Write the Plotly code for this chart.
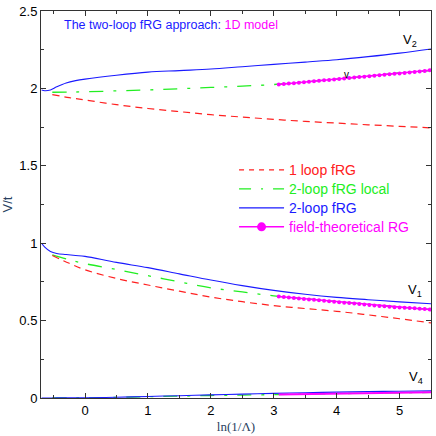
import plotly.graph_objects as go

# ---------------- data ----------------
x_blue = [-0.69, -0.64, -0.55, -0.45, -0.3, -0.15, 0, 0.5, 1, 1.5, 2, 2.5, 3, 3.5, 4, 4.5, 5, 5.5]
v2_blue = [1.99, 1.985, 1.99, 2.01, 2.035, 2.05, 2.06, 2.085, 2.105, 2.115, 2.125, 2.14, 2.155, 2.17, 2.185, 2.205, 2.228, 2.255]
v1_blue = [1.0, 0.975, 0.947, 0.934, 0.927, 0.921, 0.915, 0.876, 0.842, 0.802, 0.762, 0.726, 0.695, 0.67, 0.65, 0.635, 0.621, 0.609]
v4_blue = [0.0, 0.0, 0.0, 0.001, 0.001, 0.002, 0.002, 0.005, 0.01, 0.015, 0.02, 0.025, 0.03, 0.034, 0.038, 0.041, 0.044, 0.046]

x_loop = [-0.52, -0.25, 0, 0.5, 1, 1.5, 2, 2.5, 3, 3.5, 4, 4.5, 5, 5.5]
v2_red = [1.96, 1.94, 1.925, 1.895, 1.87, 1.85, 1.83, 1.815, 1.8, 1.787, 1.776, 1.765, 1.755, 1.745]
v1_red = [0.92, 0.87, 0.828, 0.772, 0.73, 0.69, 0.652, 0.622, 0.597, 0.578, 0.56, 0.537, 0.512, 0.485]
v2_green = [1.975, 1.976, 1.978, 1.984, 1.99, 1.998, 2.006, 2.015, 2.025, 2.042, 2.06, 2.08, 2.1, 2.115]
v1_green = [0.925, 0.893, 0.868, 0.83, 0.79, 0.75, 0.712, 0.685, 0.66, 0.642, 0.622, 0.604, 0.587, 0.572]
v4_green = [0.0, 0.0, 0.001, 0.004, 0.008, 0.012, 0.016, 0.019, 0.022, 0.025, 0.028, 0.031, 0.034, 0.036]

x_ft = [3.08, 3.16, 3.24, 3.32, 3.40, 3.48, 3.56, 3.64, 3.72, 3.80, 3.88, 3.96, 4.04, 4.12, 4.20, 4.28,
        4.36, 4.44, 4.52, 4.60, 4.68, 4.76, 4.84, 4.92, 5.00, 5.08, 5.16, 5.24, 5.32, 5.40, 5.48]
v2_ft = [2.025, 2.028, 2.031, 2.034, 2.037, 2.040, 2.043, 2.046, 2.049, 2.052, 2.055, 2.058, 2.061, 2.064,
         2.067, 2.070, 2.073, 2.076, 2.079, 2.082, 2.085, 2.088, 2.091, 2.094, 2.097, 2.100, 2.103, 2.106,
         2.109, 2.113, 2.118]
v1_ft = [0.655, 0.652, 0.649, 0.646, 0.643, 0.640, 0.637, 0.634, 0.631, 0.628, 0.625, 0.622, 0.619, 0.616,
         0.613, 0.610, 0.607, 0.604, 0.601, 0.598, 0.595, 0.592, 0.589, 0.587, 0.585, 0.583, 0.581, 0.579,
         0.577, 0.575, 0.572]
x_ft4 = [3.08, 3.5, 4.0, 4.5, 5.0, 5.5]
v4_ft = [0.022, 0.025, 0.028, 0.031, 0.034, 0.037]

x_ticks = [0, 1, 2, 3, 4, 5]
y_ticks = [0, 0.5, 1, 1.5, 2, 2.5]

RED = "#ff2020"
GREEN = "#22ee22"
BLUE = "#1a1aff"
MAG = "#ff00ff"
FONT = "Liberation Sans, Arial, sans-serif"

fig = go.Figure()

red_dash = "7px,5px"
green_dash = "14px,10px,3px,10px"

# green local
for ys in (v2_green, v1_green, v4_green):
    fig.add_trace(go.Scatter(x=x_loop, y=ys, mode="lines", line=dict(color=GREEN, width=1.3, dash=green_dash, shape="spline"),
                             showlegend=False, hoverinfo="skip"))
# red 1-loop
for ys in (v2_red, v1_red):
    fig.add_trace(go.Scatter(x=x_loop, y=ys, mode="lines", line=dict(color=RED, width=1.2, dash=red_dash, shape="spline"),
                             showlegend=False, hoverinfo="skip"))
# blue 2-loop
for ys in (v2_blue, v1_blue, v4_blue):
    fig.add_trace(go.Scatter(x=x_blue, y=ys, mode="lines", line=dict(color=BLUE, width=1.1, shape="spline"),
                             showlegend=False, hoverinfo="skip"))
# magenta field-theoretical
for ys in (v2_ft, v1_ft):
    fig.add_trace(go.Scatter(x=x_ft, y=ys, mode="lines+markers", line=dict(color=MAG, width=1.5),
                             marker=dict(color=MAG, size=4), showlegend=False, hoverinfo="skip"))
fig.add_trace(go.Scatter(x=x_ft4, y=v4_ft, mode="lines", line=dict(color=MAG, width=2),
                         showlegend=False, hoverinfo="skip"))

def lg(color, text):
    return f"<span style='color:{color};font-size:14px'>{text}</span>"

# legend entries
fig.add_trace(go.Scatter(x=[None], y=[None], mode="lines", line=dict(color=RED, width=1.2, dash="5px,5px"),
                         name=lg(RED, "1 loop fRG")))
fig.add_trace(go.Scatter(x=[None], y=[None], mode="lines", line=dict(color=GREEN, width=1.3, dash="12px,10px,2px,10px"),
                         name=lg(GREEN, "2-loop fRG local")))
fig.add_trace(go.Scatter(x=[None], y=[None], mode="lines", line=dict(color=BLUE, width=1.1),
                         name=lg(BLUE, "2-loop fRG")))
fig.add_trace(go.Scatter(x=[None], y=[None], mode="lines+markers", line=dict(color=MAG, width=1.5),
                         marker=dict(color=MAG, size=9),
                         name=lg(MAG, "field-theoretical RG")))

axis_common = dict(showline=True, linecolor="#333", linewidth=1, mirror="ticks", ticks="inside",
                   ticklen=5, tickcolor="#333", showgrid=False, zeroline=False, ticklabeloverflow="allow",
                   tickfont=dict(family=FONT, size=13, color="black"))

fig.update_layout(
    width=436, height=436,
    margin=dict(l=40, r=4, t=5, b=37),
    paper_bgcolor="white", plot_bgcolor="white",
    showlegend=True,
    legend=dict(x=0.495, y=0.627, xanchor="left", yanchor="top", bgcolor="rgba(0,0,0,0)",
                font=dict(family=FONT, size=12), tracegroupgap=0, itemwidth=45),
    xaxis=dict(range=[-0.7, 5.5], tickvals=x_ticks, **axis_common,
               minor=dict(dtick=0.5, tick0=0, ticks="inside", ticklen=3, tickcolor="#333"),
               title=dict(text="ln(1/Λ)", font=dict(family="Liberation Serif, Times New Roman, serif", size=13), standoff=5)),
    yaxis=dict(range=[0, 2.5], tickvals=y_ticks, **axis_common,
               minor=dict(dtick=0.25, tick0=0, ticks="inside", ticklen=3, tickcolor="#333"),
               title=dict(text="V/t", font=dict(family=FONT, size=13), standoff=6)),
)

fig.add_annotation(x=0.055, y=0.963, xref="paper", yref="paper", xanchor="left", yanchor="middle", showarrow=False,
                   text=f"<span style='color:{BLUE}'>The two-loop fRG approach: </span><span style='color:{MAG}'>1D model</span>",
                   font=dict(family=FONT, size=12.5))
for xx, yy, t in [(5.16, 2.31, "V<sub>2</sub>"), (5.24, 0.695, "V<sub>1</sub>"), (5.26, 0.13, "V<sub>4</sub>")]:
    fig.add_annotation(x=xx, y=yy, text=t, showarrow=False, font=dict(family=FONT, size=13, color="black"))
fig.add_annotation(x=4.15, y=2.09, text="v", showarrow=False, font=dict(family=FONT, size=10, color="black"))

fig.write_html("out.html", config={"displayModeBar": False},
               post_script="document.body.style.margin='0';document.body.style.overflow='hidden';")
